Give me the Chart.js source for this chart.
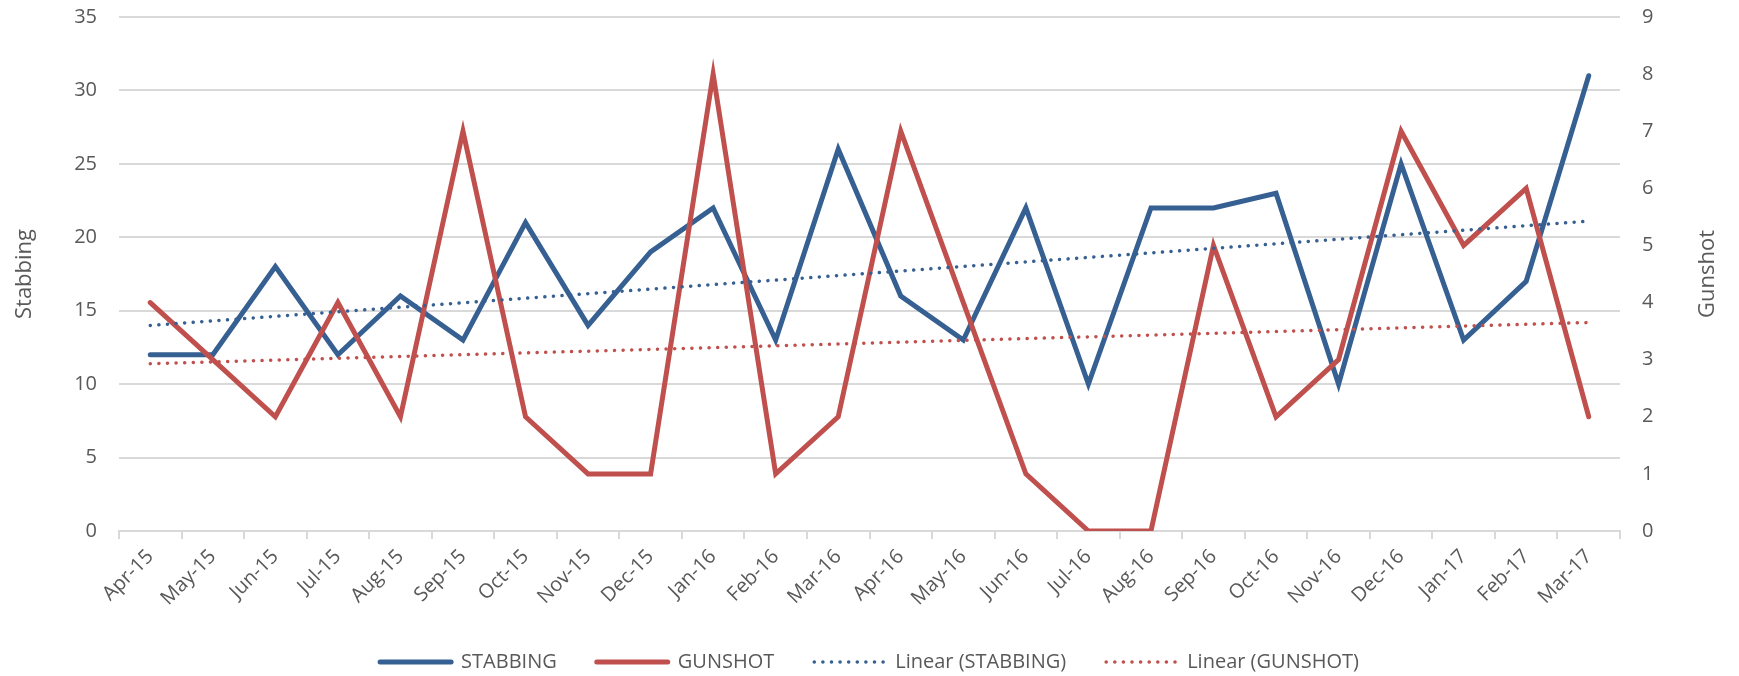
<!DOCTYPE html>
<html>
<head>
<meta charset="utf-8">
<script src="https://cdn.jsdelivr.net/npm/chart.js@4/dist/chart.umd.min.js"></script>
<style>
    html, body { margin: 0; padding: 0; background: #fff; }
    #wrap { width: 1739px; height: 676px; }
</style>
</head>
<body>
<div id="wrap"><canvas id="incidentChart"></canvas></div>
<script>
// Monthly incidents
const months = ['Apr-15', 'May-15', 'Jun-15', 'Jul-15', 'Aug-15', 'Sep-15', 'Oct-15', 'Nov-15',
    'Dec-15', 'Jan-16', 'Feb-16', 'Mar-16', 'Apr-16', 'May-16', 'Jun-16', 'Jul-16', 'Aug-16',
    'Sep-16', 'Oct-16', 'Nov-16', 'Dec-16', 'Jan-17', 'Feb-17', 'Mar-17'];
const stabbing = [12, 12, 18, 12, 16, 13, 21, 14, 19, 22, 13, 26, 16, 13, 22, 10, 22, 22, 23, 10, 25, 13, 17, 31];
const gunshot = [4, 3, 2, 4, 2, 7, 2, 1, 1, 8, 1, 2, 7, 4, 1, 0, 0, 5, 2, 3, 7, 5, 6, 2];

// trend line values at first and last month
const stabbingTrend = [14.0, 21.1];
const gunshotTrend = [2.93, 3.65];

const BLUE = '#376092';
const RED = '#c0504d';
const TEXT = '#595959';
const GRID = '#d9d9d9';
const FONT = 'Open Sans';

// plot box
const AREA = { left: 119, right: 1620, top: 17, bottom: 531 };
const LEGEND_SHIFT = 6;

function endpoints(pair) {
    // only first and last month have a value, spanGaps joins them
    return months.map((m, i) => i === 0 ? pair[0] : (i === months.length - 1 ? pair[1] : null));
}

// right axis title reads bottom-to-top like the left one
const rightTitle = {
    id: 'rightTitle',
    afterLayout(chart) {
        if (LEGEND_SHIFT) {
            chart.legend.top += LEGEND_SHIFT;
            chart.legend.bottom += LEGEND_SHIFT;
        }
    },
    afterDraw(chart) {
        const c = chart.ctx;
        const area = chart.chartArea;
        c.save();
        c.translate(1708, (area.top + area.bottom) / 2);
        c.rotate(-Math.PI / 2);
        c.fillStyle = TEXT;
        c.font = '22px "' + FONT + '"';
        c.textAlign = 'center';
        c.textBaseline = 'middle';
        c.fillText('Gunshot', 0, 0);
        c.restore();
    }
};

document.addEventListener('DOMContentLoaded', () => {
    const ctx = document.getElementById('incidentChart').getContext('2d');
    new Chart(ctx, {
        type: 'line',
        plugins: [rightTitle],
        data: {
            labels: months,
            datasets: [
                {
                    label: 'STABBING',
                    data: stabbing,
                    yAxisID: 'y',
                    borderColor: BLUE,
                    backgroundColor: BLUE,
                    borderWidth: 5,
                    pointRadius: 0,
                    borderCapStyle: 'round',
                    order: 2
                },
                {
                    label: 'GUNSHOT',
                    data: gunshot,
                    yAxisID: 'y1',
                    borderColor: RED,
                    backgroundColor: RED,
                    borderWidth: 5,
                    pointRadius: 0,
                    borderCapStyle: 'round',
                    order: 1
                },
                {
                    label: 'Linear (STABBING)',
                    data: endpoints(stabbingTrend),
                    yAxisID: 'y',
                    spanGaps: true,
                    borderColor: BLUE,
                    backgroundColor: BLUE,
                    borderWidth: 3.5,
                    borderDash: [0.1, 8.5],
                    borderCapStyle: 'round',
                    pointRadius: 0,
                    order: 0
                },
                {
                    label: 'Linear (GUNSHOT)',
                    data: endpoints(gunshotTrend),
                    yAxisID: 'y1',
                    spanGaps: true,
                    borderColor: RED,
                    backgroundColor: RED,
                    borderWidth: 3.5,
                    borderDash: [0.1, 8.5],
                    borderCapStyle: 'round',
                    pointRadius: 0,
                    order: 0
                }
            ]
        },
        options: {
            responsive: true,
            maintainAspectRatio: false,
            animation: false,
            layout: { padding: { left: 0, right: 0, top: AREA.top, bottom: 0 } },
            plugins: {
                tooltip: { enabled: false },
                legend: {
                    position: 'bottom',
                    labels: {
                        usePointStyle: true,
                        pointStyle: 'line',
                        pointStyleWidth: 71,
                        padding: 40,
                        color: TEXT,
                        font: { family: FONT, size: 20 },
                        sort: (a, b) => a.datasetIndex - b.datasetIndex,
                        generateLabels: chart => {
                            const items = Chart.defaults.plugins.legend.labels.generateLabels(chart);
                            return items.map(item => {
                                const ds = chart.data.datasets[item.datasetIndex];
                                item.lineDash = ds.borderDash || [];
                                item.lineWidth = ds.borderWidth;
                                item.lineCap = 'round';
                                item.strokeStyle = ds.borderColor;
                                item.pointStyle = 'line';
                                return item;
                            });
                        }
                    }
                }
            },
            scales: {
                x: {
                    offset: true,
                    afterFit: scale => {
                        scale.height = scale.chart.height - scale.chart.legend.height - AREA.bottom;
                        scale.paddingLeft = 0;
                        scale.paddingRight = 0;
                    },
                    grid: {
                        offset: true,
                        drawOnChartArea: false,
                        color: GRID,
                        lineWidth: 2,
                        tickLength: 8
                    },
                    border: { color: GRID, width: 2 },
                    ticks: {
                        color: TEXT,
                        padding: 6,
                        font: { family: FONT, size: 20 },
                        minRotation: 45,
                        maxRotation: 45,
                        autoSkip: false
                    }
                },
                y: {
                    position: 'left',
                    min: 0,
                    max: 35,
                    afterFit: scale => {
                        scale.width = AREA.left;
                        scale.paddingTop = 0;
                        scale.paddingBottom = 0;
                    },
                    ticks: {
                        stepSize: 5,
                        color: TEXT,
                        padding: 22,
                        font: { family: FONT, size: 20 }
                    },
                    grid: { color: GRID, lineWidth: 2, drawTicks: false },
                    border: { display: false },
                    title: {
                        display: true,
                        text: 'Stabbing',
                        color: TEXT,
                        font: { family: FONT, size: 22 },
                        padding: { top: 12, bottom: 0 }
                    }
                },
                y1: {
                    position: 'right',
                    min: 0,
                    max: 9,
                    afterFit: scale => {
                        scale.width = 1739 - AREA.right;
                        scale.paddingTop = 0;
                        scale.paddingBottom = 0;
                    },
                    ticks: {
                        stepSize: 1,
                        color: TEXT,
                        padding: 22,
                        font: { family: FONT, size: 20 }
                    },
                    grid: { display: false, drawTicks: false },
                    border: { display: false }
                }
            }
        }
    });
});
</script>
</body>
</html>
